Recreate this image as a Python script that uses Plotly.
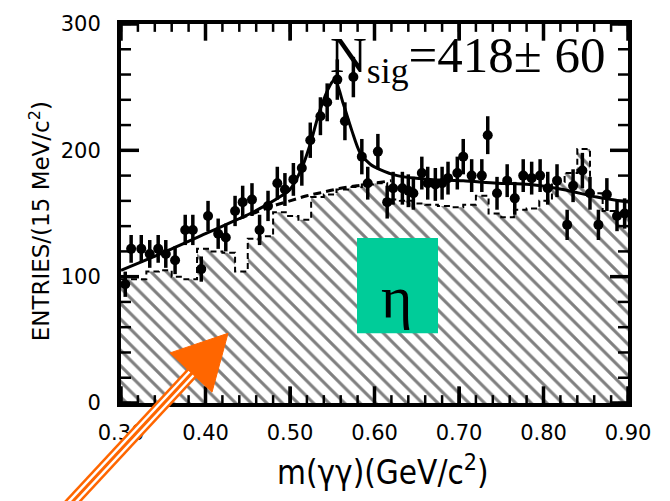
import plotly.graph_objects as go

# ---------------- data ----------------
mass = [0.305, 0.312, 0.324, 0.334, 0.344, 0.353, 0.364, 0.376, 0.385, 0.395,
        0.403, 0.415, 0.424, 0.435, 0.444, 0.455, 0.464, 0.474, 0.485, 0.494,
        0.504, 0.514, 0.524, 0.536, 0.544, 0.556, 0.565, 0.575, 0.585, 0.592,
        0.604, 0.615, 0.622, 0.633, 0.640, 0.646, 0.656, 0.663, 0.672, 0.680,
        0.687, 0.698, 0.705, 0.715, 0.727, 0.734, 0.745, 0.757, 0.766, 0.776,
        0.786, 0.796, 0.805, 0.816, 0.828, 0.835, 0.846, 0.855, 0.865, 0.875,
        0.887, 0.896]
entries = [94, 122, 122, 118, 122, 118, 113, 137, 137, 106,
           148, 134, 131, 152, 159, 161, 137, 156, 174, 169,
           177, 186, 208, 227, 238, 256, 223, 258, 195, 174,
           199, 159, 170, 170, 168, 166, 182, 174, 173, 174,
           178, 182, 195, 180, 180, 212, 166, 176, 162, 180,
           178, 180, 170, 176, 141, 172, 184, 166, 141, 165,
           148, 150]
errors = [10, 11, 11, 11, 11, 11, 11, 12, 12, 10,
          12, 12, 11, 12, 13, 13, 12, 12, 13, 13,
          13, 14, 14, 15, 15, 16, 15, 16, 14, 13,
          14, 13, 13, 13, 13, 13, 13, 13, 13, 13,
          13, 13, 14, 13, 13, 15, 13, 13, 13, 13,
          13, 13, 13, 13, 12, 13, 14, 13, 12, 13,
          12, 12]

# total fit (signal + background)
fit_x = [0.30, 0.35, 0.40, 0.43, 0.45, 0.47, 0.49, 0.50, 0.514, 0.524, 0.535,
         0.547, 0.553, 0.563, 0.573, 0.583, 0.595, 0.606, 0.627, 0.666, 0.705,
         0.745, 0.784, 0.823, 0.863, 0.90]
fit_y = [105, 119, 134, 143, 149, 156, 164, 169, 186, 205, 231,
         251, 256, 237, 216, 198, 189, 185, 180, 177, 176,
         174, 173, 169, 163, 159]

# background part of the fit (dashed)
bkg_x = [0.44, 0.46, 0.48, 0.50, 0.52, 0.54, 0.56, 0.58, 0.60, 0.62]
bkg_y = [146, 151, 156, 160, 164, 167, 170, 172, 174, 176]

# hatched background histogram (15 MeV bins, 0.30 - 0.90)
hist_vals = [98, 98, 104, 105, 100, 98, 122, 120, 119, 104,
             130, 132, 151, 148, 145, 163, 165, 169, 171, 173,
             174, 161, 160, 158, 157, 156, 155, 157, 164, 150,
             147, 153, 154, 160, 175, 182, 201, 166, 152, 148]
hist_edges = [round(0.30 + 0.015 * i, 3) for i in range(len(hist_vals) + 1)]

x_ticks = [0.30, 0.40, 0.50, 0.60, 0.70, 0.80, 0.90]
x_ticktext = ["0.30", "0.40", "0.50", "0.60", "0.70", "0.80", "0.90"]
y_ticks = [0, 100, 200, 300]
x_range = [0.30, 0.90]
y_range = [0, 300]
x_minor_step = 0.02
y_minor_step = 20

# ---------------- layout geometry (pixels) ----------------
W, H = 670, 501
L, R, T, B = 121, 628, 17, 403
PW, PH = R - L, B - T


def px(xp):
    return (xp - L) / PW


def py(yp):
    return (B - yp) / PH


fig = go.Figure()

fig.add_trace(go.Scatter(
    x=hist_edges, y=hist_vals + [hist_vals[-1]],
    mode="lines", line=dict(color="black", width=2, dash="6px,4px", shape="hv"),
    fill="tozeroy",
    fillpattern=dict(shape="\\", fgcolor="black", bgcolor="white", size=11, solidity=0.28),
    hoverinfo="skip", showlegend=False))

fig.add_trace(go.Scatter(
    x=bkg_x, y=bkg_y, mode="lines",
    line=dict(color="black", width=3, dash="8px,5px", shape="spline"),
    showlegend=False))

fig.add_trace(go.Scatter(
    x=fit_x, y=fit_y, mode="lines",
    line=dict(color="black", width=3, shape="spline", smoothing=0.8),
    showlegend=False))

fig.add_trace(go.Scatter(
    x=mass, y=entries, mode="markers",
    marker=dict(color="black", size=10, symbol="circle"),
    error_y=dict(type="data", array=errors, visible=True, color="black", thickness=3.5, width=0),
    showlegend=False))

tickfont = dict(family="DejaVu Sans", size=21, color="black")

fig.update_layout(
    xaxis=dict(range=x_range, tickvals=x_ticks, ticktext=x_ticktext,
               ticks="inside", ticklen=16, tickwidth=3, tickcolor="black",
               ticklabelstandoff=8, tickfont=tickfont,
               showline=True, linewidth=4, linecolor="black", mirror="ticks",
               showgrid=False, zeroline=False),
    yaxis=dict(range=y_range, tickvals=y_ticks,
               ticks="inside", ticklen=17, tickwidth=3, tickcolor="black",
               ticklabelstandoff=12, tickfont=tickfont,
               showline=True, linewidth=4, linecolor="black", mirror="ticks",
               showgrid=False, zeroline=False),
)

shapes = []


def n_steps(lo, hi, step):
    return int(round((hi - lo) / step))


# inward tick marks on all four sides (major and minor), derived from axis settings
x_minor_vals = [x_range[0] + x_minor_step * i for i in range(n_steps(x_range[0], x_range[1], x_minor_step) + 1)]
y_minor_vals = [y_range[0] + y_minor_step * i for i in range(n_steps(y_range[0], y_range[1], y_minor_step) + 1)]
for vals, ln, wd in [(x_minor_vals, 8, 2.5), (x_ticks, 17, 3.5)]:
    for v in vals:
        for y0, y1 in [(0, ln / PH), (1, 1 - ln / PH)]:
            shapes.append(dict(type="line", xref="x", yref="paper", x0=v, x1=v, y0=y0, y1=y1,
                               line=dict(color="black", width=wd), layer="above"))
for vals, ln, wd in [(y_minor_vals, 10, 2.5), (y_ticks, 18, 3.5)]:
    for v in vals:
        for x0, x1 in [(0, ln / PW), (1, 1 - ln / PW)]:
            shapes.append(dict(type="line", xref="paper", yref="y", x0=x0, x1=x1, y0=v, y1=v,
                               line=dict(color="black", width=wd), layer="above"))

# teal box
shapes.append(dict(type="rect", xref="paper", yref="paper",
                   x0=px(357), x1=px(438), y0=py(332), y1=py(235),
                   fillcolor="#00CC99", line=dict(width=0), layer="above"))

# orange arrow shaft (triple line)
sx0, sy0 = 62, 515
sx1, sy1 = 196, 368
for w, c in [(13, "#FF6600"), (8, "white"), (3, "#FF6600")]:
    shapes.append(dict(type="line", xref="paper", yref="paper",
                       x0=px(sx0), y0=py(sy0), x1=px(sx1), y1=py(sy1),
                       line=dict(color=c, width=w), layer="above"))
# arrow head
tri = [(228, 332), (170, 352), (212, 392)]
path = "M {} {} L {} {} L {} {} Z".format(px(tri[0][0]), py(tri[0][1]),
                                          px(tri[1][0]), py(tri[1][1]),
                                          px(tri[2][0]), py(tri[2][1]))
shapes.append(dict(type="path", xref="paper", yref="paper", path=path,
                   fillcolor="#FF6600", line=dict(color="#FF6600", width=1), layer="above"))

annotations = [
    dict(text="N<sub>sig</sub>=418± 60", xref="paper", yref="paper",
         x=px(328), y=py(53), xanchor="left", yanchor="middle", showarrow=False,
         font=dict(family="Liberation Serif", size=51, color="black")),
    dict(text="η", xref="paper", yref="paper",
         x=px(396), y=py(295), xanchor="center", yanchor="middle", showarrow=False,
         font=dict(family="Liberation Serif", size=60, color="black")),
    dict(text="ENTRIES/(15 MeV/c<sup>2</sup>)", xref="paper", yref="paper",
         x=px(40), y=py(218), xanchor="center", yanchor="middle", showarrow=False,
         textangle=-90,
         font=dict(family="DejaVu Sans", size=23, color="black")),
    dict(text="m(γγ)(GeV/c<sup>2</sup>)", xref="paper", yref="paper",
         x=px(383), y=py(472), xanchor="center", yanchor="middle", showarrow=False,
         font=dict(family="DejaVu Sans Condensed, Liberation Sans Narrow, sans-serif",
                   size=33, color="black")),
]

fig.update_layout(
    width=W, height=H,
    margin=dict(l=L, r=W - R, t=T, b=H - B),
    paper_bgcolor="white", plot_bgcolor="white",
    shapes=shapes, annotations=annotations,
    showlegend=False,
)

fig.write_html("out.html")
